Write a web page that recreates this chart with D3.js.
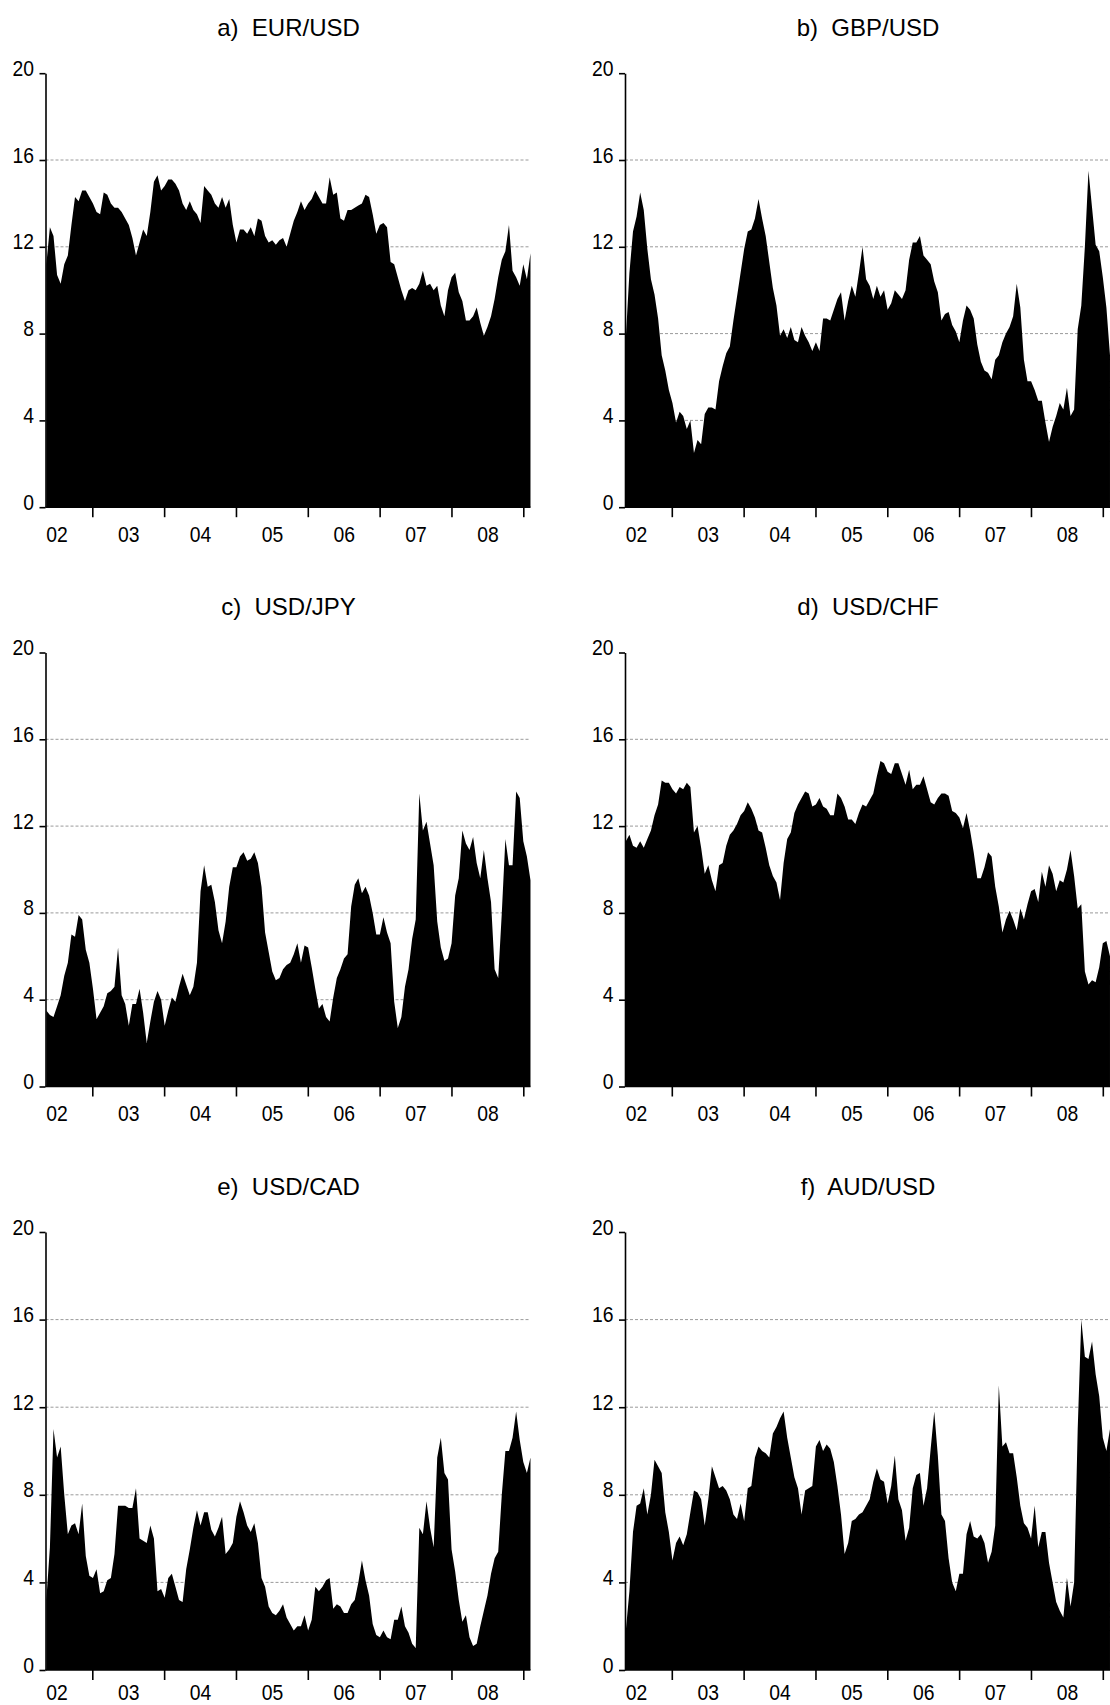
<!DOCTYPE html>
<html>
<head>
<meta charset="utf-8">
<script src="https://cdn.jsdelivr.net/npm/d3@7"></script>
<style>
  body { margin: 0; background: #fff; }
  svg { display: block; background: #fff; }
  .title { font-family: "Liberation Sans", Arial, sans-serif; font-size: 24px; white-space: pre; fill: #000; }
  .axis text { font-family: "Liberation Sans", Arial, sans-serif; font-size: 22.5px; fill: #000; }
  .axis path, .axis line { stroke: #000; stroke-width: 1.6; }
  .grid line { stroke: #9a9a9a; stroke-width: 1; stroke-dasharray: 3,2; }
</style>
</head>
<body>
<div id="chart"></div>
<script>
// sample period, in fractional years
const tStart = 2002.36, tEnd = 2009.10;

const yearTicks = [2003, 2004, 2005, 2006, 2007, 2008, 2009];
const labelYears = [2002.5, 2003.5, 2004.5, 2005.5, 2006.5, 2007.5, 2008.5];
const yearLabels = ["02", "03", "04", "05", "06", "07", "08"];
const yTicks = [0, 4, 8, 12, 16, 20];
const gridValues = [4, 8, 12, 16];

const titles = ["a)  EUR/USD", "b)  GBP/USD", "c)  USD/JPY", "d)  USD/CHF", "e)  USD/CAD", "f)  AUD/USD"];

const eurusd = [
  11.2, 12.9, 12.5, 10.7, 10.3, 11.2, 11.6, 13.0, 14.3, 14.1,
  14.6, 14.6, 14.3, 14.0, 13.6, 13.5, 14.5, 14.4, 14.0, 13.8,
  13.8, 13.6, 13.3, 13.0, 12.4, 11.6, 12.2, 12.8, 12.5, 13.6,
  15.0, 15.3, 14.6, 14.8, 15.1, 15.1, 14.9, 14.6, 14.0, 13.7,
  14.1, 13.7, 13.5, 13.1, 14.8, 14.6, 14.4, 14.0, 13.8, 14.3,
  13.8, 14.2, 13.0, 12.2, 12.8, 12.8, 12.6, 12.9, 12.5, 13.3,
  13.2, 12.5, 12.2, 12.3, 12.1, 12.3, 12.4, 12.0, 12.6, 13.2,
  13.6, 14.1, 13.7, 14.0, 14.2, 14.6, 14.3, 14.0, 14.0, 15.2,
  14.4, 14.5, 13.3, 13.2, 13.7, 13.7, 13.8, 13.9, 14.0, 14.4,
  14.3, 13.5, 12.6, 13.0, 13.1, 12.9, 11.3, 11.2, 10.6, 10.0,
  9.5, 10.0, 10.1, 10.0, 10.3, 10.9, 10.2, 10.3, 10.0, 10.2,
  9.3, 8.8, 10.0, 10.6, 10.8, 9.9, 9.5, 8.6, 8.6, 8.8,
  9.2, 8.5, 7.9, 8.3, 8.8, 9.6, 10.6, 11.4, 11.8, 13.0,
  10.9, 10.6, 10.2, 11.2, 10.5, 11.7
];

const gbpusd = [
  7.8, 10.8, 12.7, 13.4, 14.5, 13.7, 11.9, 10.5, 9.8, 8.7,
  7.0, 6.3, 5.4, 4.8, 3.9, 4.4, 4.2, 3.6, 4.0, 2.5,
  3.1, 2.9, 4.3, 4.6, 4.6, 4.5, 5.8, 6.5, 7.1, 7.4,
  8.6, 9.7, 10.8, 11.9, 12.7, 12.8, 13.3, 14.2, 13.3, 12.5,
  11.3, 10.1, 9.3, 7.9, 8.2, 7.8, 8.3, 7.7, 7.6, 8.3,
  7.9, 7.6, 7.2, 7.6, 7.2, 8.7, 8.7, 8.6, 9.1, 9.6,
  9.9, 8.6, 9.5, 10.2, 9.7, 10.8, 12.0, 10.5, 10.2, 9.6,
  10.2, 9.7, 10.0, 9.1, 9.4, 10.0, 9.8, 9.6, 10.0, 11.4,
  12.2, 12.2, 12.5, 11.6, 11.4, 11.2, 10.4, 9.9, 8.6, 8.9,
  9.0, 8.4, 8.1, 7.6, 8.6, 9.3, 9.1, 8.7, 7.5, 6.7,
  6.3, 6.2, 5.9, 6.8, 7.0, 7.6, 8.0, 8.3, 8.8, 10.3,
  9.2, 6.8, 5.8, 5.8, 5.4, 4.9, 4.9, 3.9, 3.0, 3.7,
  4.2, 4.8, 4.5, 5.5, 4.2, 4.5, 8.2, 9.3, 12.0, 15.5,
  13.8, 12.1, 11.8, 10.6, 9.2, 7.0
];

const usdjpy = [
  3.5, 3.3, 3.2, 3.7, 4.2, 5.1, 5.7, 7.0, 6.9, 7.9,
  7.7, 6.3, 5.7, 4.5, 3.1, 3.4, 3.7, 4.3, 4.4, 4.6,
  6.4, 4.2, 3.8, 2.8, 3.8, 3.8, 4.5, 3.4, 2.0, 3.0,
  3.9, 4.4, 4.0, 2.8, 3.5, 4.1, 3.9, 4.6, 5.2, 4.7,
  4.2, 4.6, 5.7, 9.0, 10.2, 9.2, 9.3, 8.5, 7.2, 6.6,
  7.6, 9.2, 10.1, 10.1, 10.6, 10.8, 10.4, 10.5, 10.8, 10.3,
  9.2, 7.1, 6.2, 5.3, 4.9, 5.0, 5.4, 5.6, 5.7, 6.1,
  6.6, 5.7, 6.5, 6.4, 5.5, 4.5, 3.6, 3.8, 3.2, 3.0,
  4.1, 5.0, 5.4, 5.9, 6.1, 8.3, 9.3, 9.6, 8.9, 9.2,
  8.8, 8.0, 7.0, 7.0, 7.8, 7.1, 6.6, 3.9, 2.7, 3.2,
  4.6, 5.4, 6.8, 7.7, 13.5, 11.8, 12.2, 11.2, 10.2, 7.6,
  6.4, 5.8, 5.9, 6.6, 8.8, 9.6, 11.8, 11.2, 10.9, 11.5,
  10.3, 9.6, 10.9, 9.6, 8.5, 5.4, 5.0, 8.0, 11.4, 10.2,
  10.2, 13.6, 13.3, 11.3, 10.6, 9.5
];

const usdchf = [
  11.3, 11.6, 11.1, 11.0, 11.3, 11.0, 11.4, 11.8, 12.5, 13.0,
  14.1, 14.0, 14.0, 13.7, 13.5, 13.8, 13.7, 14.0, 13.8, 11.7,
  12.0, 11.0, 9.8, 10.2, 9.5, 9.0, 10.2, 10.3, 11.1, 11.6,
  11.8, 12.1, 12.5, 12.7, 13.1, 12.8, 12.4, 11.8, 11.7, 11.0,
  10.2, 9.7, 9.4, 8.6, 10.3, 11.4, 11.7, 12.6, 13.0, 13.3,
  13.6, 13.5, 12.9, 13.0, 13.3, 12.9, 12.8, 12.5, 12.5, 13.5,
  13.3, 12.9, 12.3, 12.3, 12.1, 12.6, 13.0, 12.9, 13.2, 13.5,
  14.3, 15.0, 14.9, 14.5, 14.4, 14.9, 14.9, 14.4, 13.9, 14.6,
  13.7, 13.9, 13.9, 14.3, 13.7, 13.1, 13.0, 13.3, 13.5, 13.5,
  13.4, 12.7, 12.6, 12.4, 11.9, 12.6, 11.8, 10.8, 9.6, 9.6,
  10.1, 10.8, 10.6, 9.2, 8.3, 7.1, 7.7, 8.1, 7.7, 7.2,
  8.2, 7.7, 8.4, 9.0, 9.1, 8.5, 9.9, 9.2, 10.2, 9.8,
  9.0, 9.5, 9.4, 10.0, 10.9, 9.7, 8.2, 8.4, 5.3, 4.7,
  4.9, 4.8, 5.5, 6.6, 6.7, 6.0
];

const usdcad = [
  3.2, 5.6, 11.0, 9.7, 10.2, 8.0, 6.2, 6.6, 6.7, 6.2,
  7.6, 5.2, 4.3, 4.2, 4.6, 3.5, 3.6, 4.1, 4.2, 5.3,
  7.5, 7.5, 7.5, 7.4, 7.4, 8.3, 6.0, 5.9, 5.8, 6.6,
  6.0, 3.6, 3.7, 3.3, 4.2, 4.4, 3.8, 3.2, 3.1, 4.6,
  5.5, 6.5, 7.3, 6.6, 7.2, 7.2, 6.4, 6.1, 6.5, 7.0,
  5.3, 5.5, 5.8, 7.0, 7.7, 7.2, 6.6, 6.3, 6.7, 5.8,
  4.2, 3.8, 2.9, 2.6, 2.5, 2.7, 3.0, 2.4, 2.1, 1.8,
  2.0, 2.0, 2.5, 1.8, 2.3, 3.8, 3.6, 3.8, 4.1, 4.2,
  2.8, 3.0, 2.9, 2.6, 2.6, 3.0, 3.2, 4.0, 5.0, 4.1,
  3.4, 2.1, 1.6, 1.5, 1.8, 1.5, 1.4, 2.3, 2.3, 2.9,
  2.0, 1.7, 1.2, 1.0, 6.5, 6.2, 7.7, 6.5, 5.6, 9.7,
  10.6, 9.0, 8.7, 5.5, 4.5, 3.2, 2.2, 2.5, 1.5, 1.1,
  1.2, 2.0, 2.7, 3.4, 4.4, 5.1, 5.4, 8.0, 10.0, 10.0,
  10.6, 11.8, 10.5, 9.5, 9.0, 9.7
];

const audusd = [
  1.8, 3.6, 6.3, 7.5, 7.6, 8.3, 7.1, 8.0, 9.6, 9.3,
  9.0, 7.2, 6.3, 5.0, 5.8, 6.1, 5.7, 6.2, 7.2, 8.2,
  8.1, 7.8, 6.6, 7.8, 9.3, 8.8, 8.3, 8.4, 8.2, 7.8,
  7.1, 6.9, 7.6, 6.8, 8.3, 8.4, 9.7, 10.2, 10.0, 9.9,
  9.7, 10.8, 11.1, 11.5, 11.8, 10.6, 9.7, 8.8, 8.3, 7.1,
  8.2, 8.3, 8.4, 10.2, 10.5, 10.0, 10.3, 10.1, 9.5, 8.4,
  7.1, 5.3, 5.8, 6.8, 6.9, 7.1, 7.2, 7.5, 7.8, 8.6,
  9.2, 8.7, 8.6, 7.6, 8.4, 9.8, 7.8, 7.3, 5.9, 6.5,
  8.3, 8.9, 9.0, 7.5, 8.3, 10.1, 11.8, 9.8, 7.1, 6.8,
  5.1, 4.0, 3.6, 4.4, 4.4, 6.2, 6.8, 6.1, 6.0, 6.2,
  5.8, 4.9, 5.4, 6.6, 13.0, 10.2, 10.4, 9.9, 9.9, 8.8,
  7.5, 6.7, 6.5, 6.0, 7.5, 5.6, 6.3, 6.3, 4.9, 4.0,
  3.1, 2.7, 2.4, 4.2, 2.9, 4.0, 11.0, 16.0, 14.3, 14.2,
  15.0, 13.5, 12.5, 10.6, 10.0, 11.0
];

const series = [eurusd, gbpusd, usdjpy, usdchf, usdcad, audusd];

// layout
const width = 1110, height = 1705;
const colX = [45.5, 625];
const rowY = [73.2, 652.5, 1232];
const rowH = [434, 434, 438];
const labelPad = [19, 19, 14];
const plotW = 485;
const squeeze = 0.86; // tick labels are narrower than plain Arial

const svg = d3.select("#chart").append("svg")
  .attr("width", width)
  .attr("height", height);

const x = d3.scaleLinear().domain([2003, 2009]).range([46.8, 477.8]);

series.forEach((values, k) => {
  const row = Math.floor(k / 2), col = k % 2;
  const h = rowH[row];
  const y = d3.scaleLinear().domain([0, 20]).range([h, 0]);

  const step = (tEnd - tStart) / (values.length - 1);
  const data = values.map((v, i) => ({ t: tStart + i * step, v: v }));

  const g = svg.append("g")
    .attr("transform", `translate(${colX[col]},${rowY[row]})`);

  g.append("text")
    .attr("class", "title")
    .attr("x", 243)
    .attr("y", -37.5)
    .attr("text-anchor", "middle")
    .text(titles[k]);

  // dashed grid behind the area
  g.append("g").attr("class", "grid")
    .selectAll("line")
    .data(gridValues)
    .join("line")
    .attr("x1", 0)
    .attr("x2", plotW)
    .attr("y1", d => y(d))
    .attr("y2", d => y(d));

  const area = d3.area()
    .x(d => x(d.t))
    .y0(y(0))
    .y1(d => y(d.v));

  g.append("path")
    .datum(data)
    .attr("fill", "#000")
    .attr("d", area);

  // y axis, labels sit just above their tick
  g.append("g").attr("class", "axis")
    .call(d3.axisLeft(y).tickValues(yTicks).tickSize(6).tickSizeOuter(0).tickPadding(5.5))
    .call(a => a.selectAll("text")
      .attr("dy", null)
      .attr("y", 2)
      .attr("x", -11.5 / squeeze)
      .attr("transform", `scale(${squeeze},1)`));

  // x axis: ticks at year starts, labels mid-year
  const xa = g.append("g").attr("class", "axis")
    .attr("transform", `translate(0,${h})`);
  xa.call(d3.axisBottom(x).tickValues(yearTicks).tickSize(10).tickFormat(""))
    .call(a => a.select(".domain").remove());
  xa.append("line")
    .attr("x1", 0)
    .attr("x2", plotW);

  g.append("g").attr("class", "axis")
    .attr("transform", `translate(0,${h})`)
    .call(d3.axisBottom(x).tickValues(labelYears).tickSize(0).tickPadding(labelPad[row])
      .tickFormat((d, i) => yearLabels[i]))
    .call(a => a.select(".domain").remove())
    .call(a => a.selectAll("text").attr("transform", `scale(${squeeze},1)`));
});
</script>
</body>
</html>
